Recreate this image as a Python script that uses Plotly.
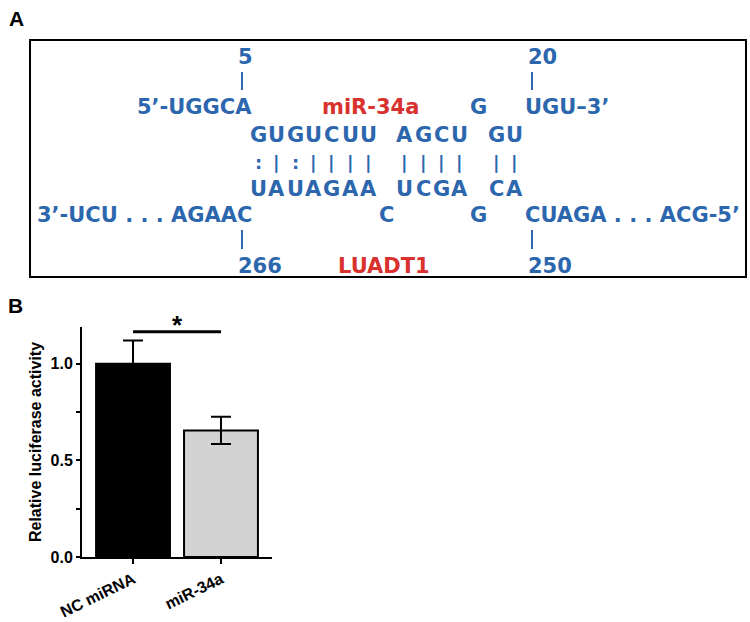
import plotly.graph_objects as go

W, H = 750, 622

# ---- panel A: miR-34a / LUADT1 pairing (columns of the duplex) ----
mir_5p_flank = "5’-UGGCA"
mir_3p_flank = "UGU–3’"
mir_bulge = "            G  "
mir_paired = "GUGUCUU AGCU GU"
pair_marks = ":|:|||| |||| ||"
target_paired = "UAUAGAA UCGA CA"
target_bulge = "       C    G  "
target_3p_flank = "3’-UCU . . . AGAAC"
target_5p_flank = "CUAGA . . . ACG-5’"
mir_positions = ["5", "20"]
target_positions = ["266", "250"]
mir_name = "miR-34a"
target_name = "LUADT1"

# ---- panel B: luciferase assay ----
categories = ["NC miRNA", "miR-34a"]
rel_activity = [1.0, 0.655]
activity_err = [0.12, 0.07]
bar_colors = ["black", "#d3d3d3"]
sig_label = "*"

BLUE = "#2c67ae"
RED = "#d8312e"
SEQ_FONT = dict(family="DejaVu Sans", size=21, color=BLUE, weight="bold")


def px(x):
    return x / W


def py(y):
    return 1 - y / H


def col_x(k):
    return 258.5 + 18.3 * k


annotations = []
shapes = []


def add_text(x, y, text, font, xanchor="center", yanchor="middle"):
    annotations.append(dict(x=px(x), y=py(y), xref="paper", yref="paper",
                            text=text, showarrow=False, font=font,
                            xanchor=xanchor, yanchor=yanchor))


# sequence rows laid out column by column
rows = [(mir_bulge, 107), (mir_paired, 135), (target_paired, 189), (target_bulge, 215)]
for row, yy in rows:
    for k, ch in enumerate(row):
        if ch != " ":
            add_text(col_x(k), yy, ch, SEQ_FONT)
for k, ch in enumerate(pair_marks):
    if ch != " ":
        add_text(col_x(k), 162, ch, dict(SEQ_FONT, size=18))

# flanking sequences
add_text(254, 107, mir_5p_flank, SEQ_FONT, xanchor="right")
add_text(523, 107, mir_3p_flank, SEQ_FONT, xanchor="left")
add_text(254, 215, target_3p_flank, SEQ_FONT, xanchor="right")
add_text(523, 215, target_5p_flank, SEQ_FONT, xanchor="left")

# position numbers with their ticks
tick_x = [242, 532]
for tx, lab in zip(tick_x, mir_positions):
    add_text(tx - 6, 57, lab, SEQ_FONT, xanchor="left")
    shapes.append(dict(type="line", xref="paper", yref="paper", x0=px(tx), x1=px(tx),
                       y0=py(72), y1=py(90), line=dict(color=BLUE, width=2)))
for tx, lab in zip(tick_x, target_positions):
    add_text(tx - 6, 266, lab, SEQ_FONT, xanchor="left")
    shapes.append(dict(type="line", xref="paper", yref="paper", x0=px(tx), x1=px(tx),
                       y0=py(230), y1=py(249), line=dict(color=BLUE, width=2)))

add_text(370, 107, mir_name, dict(SEQ_FONT, color=RED))
add_text(384, 266, target_name, dict(SEQ_FONT, color=RED))

# frame around panel A
shapes.append(dict(type="rect", xref="paper", yref="paper", x0=px(30), x1=px(746),
                   y0=py(40), y1=py(277), line=dict(color="black", width=2)))

# panel letters
LETTER_FONT = dict(family="Arial, Liberation Sans", size=21, color="black", weight="bold")
add_text(16, 18, "A", LETTER_FONT)
add_text(15, 305, "B", LETTER_FONT)

# ---- bar chart ----
fig = go.Figure(go.Bar(
    x=categories, y=rel_activity,
    marker=dict(color=bar_colors, line=dict(color="black", width=2)),
    error_y=dict(type="data", array=activity_err, color="black", thickness=2, width=10),
    width=0.84,
))

# significance bracket between the two groups
sig_y = 1.166
shapes.append(dict(type="line", xref="x", yref="y", x0=categories[0], x1=categories[1],
                   y0=sig_y, y1=sig_y, line=dict(color="black", width=3)))
annotations.append(dict(x=0.5, y=sig_y, xref="x", yref="y", text=sig_label, showarrow=False,
                        font=dict(family="Arial, Liberation Sans", size=26, color="black", weight="bold"),
                        xanchor="center", yanchor="bottom", yshift=-10))

AX_FONT = dict(family="Arial, Liberation Sans", size=16, color="black", weight="bold")
fig.update_layout(
    width=W, height=H,
    margin=dict(l=0, r=0, t=0, b=0),
    paper_bgcolor="white", plot_bgcolor="white",
    showlegend=False,
    annotations=annotations,
    shapes=shapes,
    xaxis=dict(domain=[px(82), px(272)], range=[-0.58, 1.58],
               showline=True, linecolor="black", linewidth=2,
               ticks="outside", ticklen=5, tickwidth=2, tickcolor="black",
               tickangle=-26, tickfont=AX_FONT,
               showgrid=False, zeroline=False, automargin=False),
    yaxis=dict(domain=[py(557), py(327)], range=[0, 1.19],
               showline=True, linecolor="black", linewidth=2,
               tickvals=[0, 0.5, 1.0], ticktext=["0.0", "0.5", "1.0"],
               ticks="outside", ticklen=4, tickwidth=2, tickcolor="black",
               minor=dict(tickvals=[0.25, 0.75], ticks="outside", ticklen=4,
                          tickwidth=1.5, tickcolor="black"),
               tickfont=AX_FONT, showgrid=False, zeroline=False, automargin=False,
               title=dict(text="Relative luciferase activity", standoff=5,
                          font=dict(family="Arial, Liberation Sans", size=16,
                                    color="black", weight="bold"))),
)

# the page's default body margin would shift the figure by 8px
fig.write_html("out.html", config={"displayModeBar": False},
               post_script="document.body.style.margin='0';")
